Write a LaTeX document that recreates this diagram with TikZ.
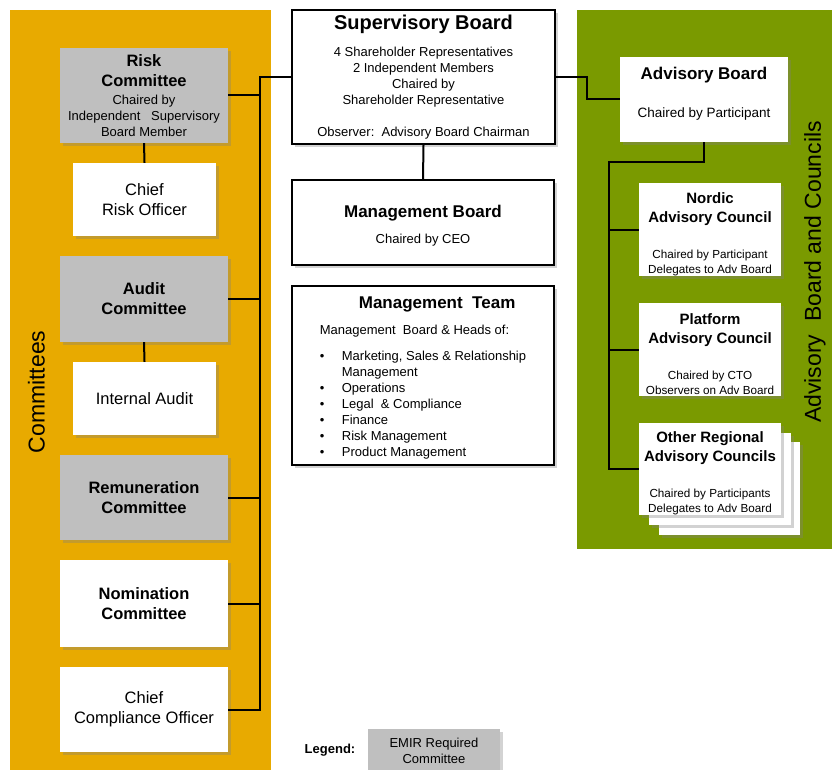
\documentclass[tikz,border=0pt]{standalone}
\usepackage{fontspec}
\setmainfont{Liberation Sans}
\usetikzlibrary{shadows}

\definecolor{cmtorange}{RGB}{232,170,0}
\definecolor{advgreen}{RGB}{122,154,0}
\definecolor{emirgray}{RGB}{191,191,191}

\newcommand{\bighead}{\fontsize{20}{24}\selectfont\bfseries}
\newcommand{\boxhead}{\fontsize{16.5}{20}\selectfont\bfseries}
\newcommand{\advhead}{\fontsize{15}{19}\selectfont\bfseries}
\newcommand{\mtitem}[1]{\makebox[22pt][l]{\textbullet}#1}

\tikzset{
  box/.style={rectangle, align=center, inner sep=2pt,
    drop shadow={opacity=0.35, shadow xshift=3pt, shadow yshift=-3pt}},
  emirbox/.style={box, fill=emirgray},
  plainbox/.style={box, fill=white},
  boardbox/.style={box, fill=white, draw=black, line width=1.8pt},
  advbox/.style={box, fill=white, inner ysep=0pt, minimum width=142, minimum height=93,
    font=\fontsize{11.7}{15}\selectfont},
  link/.style={draw=black, line width=2pt},
  sidelabel/.style={rotate=90, font=\fontsize{23}{27}\selectfont}
}

\begin{document}
\begin{tikzpicture}[x=1pt, y=-1pt]
  \useasboundingbox (0,0) rectangle (832,770);
  % panels
  \fill[cmtorange] (10,10) rectangle (271,775);
  \fill[advgreen] (577,10) rectangle (835,549);
  \node[sidelabel] (cmtlabel) at (36.5,392) {Committees};
  \node[sidelabel] (advlabel) at (815,272) {Advisory\ \ Board and Councils};

  % committees
  \node[emirbox, minimum width=168, minimum height=95, font=\fontsize{13}{16}\selectfont] (risk) at (144,95.5)
    {\boxhead Risk\\[4pt]\boxhead Committee\\[2pt]Chaired by\\Independent\ \ \ Supervisory\\Board Member};
  \node[plainbox, minimum width=143, minimum height=73, font=\fontsize{16.5}{20}\selectfont] (cro) at (144.5,199.5)
    {Chief\\Risk Officer};
  \node[emirbox, minimum width=168, minimum height=86, font=\fontsize{16.5}{20}\selectfont] (audit) at (144,299)
    {\bfseries Audit\\\bfseries Committee};
  \node[plainbox, minimum width=143, minimum height=73, font=\fontsize{16.5}{20}\selectfont] (intaudit) at (144.5,398.5)
    {Internal Audit};
  \node[emirbox, minimum width=168, minimum height=85, font=\fontsize{16.5}{20}\selectfont] (remun) at (144,497.5)
    {\bfseries Remuneration\\\bfseries Committee};
  \node[plainbox, minimum width=168, minimum height=87, font=\fontsize{16.5}{20}\selectfont] (nomin) at (144,603.5)
    {\bfseries Nomination\\\bfseries Committee};
  \node[plainbox, minimum width=168, minimum height=85, font=\fontsize{16.5}{20}\selectfont] (cco) at (144,709.5)
    {Chief\\Compliance Officer};

  % boards
  \node[boardbox, minimum width=263, minimum height=134, font=\fontsize{13}{16}\selectfont] (sb) at (423.5,77)
    {\bighead Supervisory Board\\[11pt]4 Shareholder\ Representatives\\2 Independent\ Members\\Chaired by\\Shareholder\ Representative\\[16pt]Observer:\ \ Advisory\ Board Chairman};
  \node[boardbox, minimum width=262, minimum height=85, font=\fontsize{13}{16}\selectfont] (mb) at (423,222.5)
    {\fontsize{17}{20}\selectfont\bfseries\rule{0pt}{19pt}Management\ Board\\[10pt]Chaired by CEO};
  \node[boardbox, minimum width=262, minimum height=179, align=left, font=\fontsize{13}{16}\selectfont] (mt) at (423,375.5)
    {\hspace*{39pt}\fontsize{17}{20}\selectfont\bfseries\rule{0pt}{16pt}Management\ \ Team\\[10pt]
     Management\ \ Board \& Heads\ of:\\[10pt]
     \mtitem{Marketing,\ Sales \& Relationship}\\
     \hspace*{22pt}Management\\
     \mtitem{Operations}\\
     \mtitem{Legal \ \& Compliance}\\
     \mtitem{Finance}\\
     \mtitem{Risk Management}\\
     \mtitem{Product Management}};

  % advisory side
  \node[plainbox, minimum width=168, minimum height=85, font=\fontsize{13.5}{16}\selectfont] (ab) at (704,99.5)
    {\fontsize{17}{20}\selectfont\bfseries Advisory Board\\[22pt]Chaired by Participant\rule[-14pt]{0pt}{14pt}};
  \node[advbox] (nordic) at (710,229.5)
    {\advhead\rule{0pt}{20pt}Nordic\\[4pt]\advhead Advisory Council\\[21pt]Chaired by Participant\\Delegates to Adv Board};
  \node[advbox] (platform) at (710,349.5)
    {\advhead\rule{0pt}{20pt}Platform\\[4pt]\advhead Advisory Council\\[21pt]Chaired by CTO\\Observers on Adv Board};
  \node[plainbox, minimum width=141, minimum height=93] (orcback2) at (729.5,488.5) {};
  \node[plainbox, minimum width=142, minimum height=92] (orcback1) at (720,479) {};
  \node[advbox, minimum height=92] (orc) at (710,469)
    {\advhead\rule{0pt}{19pt}Other Regional\\[4pt]\advhead Advisory Councils\\[21pt]Chaired by Participants\\Delegates to Adv Board};

  % legend
  \node[font=\fontsize{13}{16}\selectfont\bfseries] (legend) at (330,750) {Legend:};
  \node[emirbox, minimum width=132, minimum height=44, font=\fontsize{13}{16}\selectfont] (emir) at (434,751)
    {EMIR Required\\Committee};

  % connectors
  \coordinate (lbus) at (260,77);
  \coordinate (rjog) at (587,77);
  \coordinate (rbus) at (609,162);
  \draw[link] (sb.west) -- (lbus) |- (cco.east);
  \foreach \c in {risk, audit, remun, nomin}
    \draw[link] (\c.east) -- (\c.east -| lbus);
  \draw[link] (risk.south) -- (cro.north);
  \draw[link] (audit.south) -- (intaudit.north);
  \draw[link] (sb.south) -- (mb.north);
  \draw[link] (sb.east) -- (rjog) |- (ab.west);
  \draw[link] (ab.south) |- (rbus) |- (orc.west);
  \foreach \c in {nordic, platform}
    \draw[link] (\c.west) -- (\c.west -| rbus);
\end{tikzpicture}
\end{document}
